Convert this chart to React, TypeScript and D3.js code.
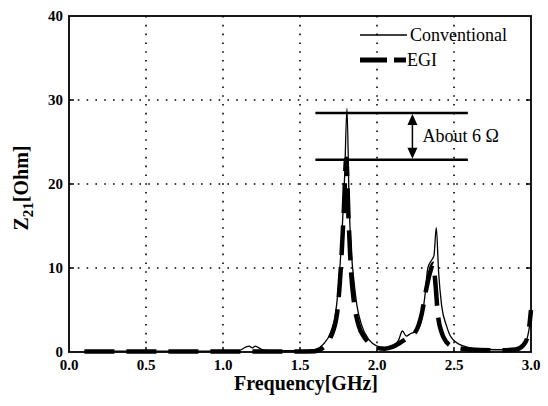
import * as d3 from 'd3';
import React from 'react';

const width = 548;
const height = 406;
const margin = { top: 16, right: 17, bottom: 54, left: 69 };

// frequency [GHz] / Z21 [Ohm]
const convFreq = [0.1, 0.5, 1.0, 1.1, 1.15, 1.17, 1.19, 1.21, 1.25, 1.3, 1.5, 1.6, 1.65, 1.7, 1.73, 1.755, 1.775, 1.79, 1.805, 1.82, 1.835, 1.85, 1.87, 1.9, 1.95, 2.0, 2.05, 2.1, 2.14, 2.165, 2.19, 2.22, 2.25, 2.28, 2.31, 2.33, 2.35, 2.37, 2.385, 2.4, 2.42, 2.45, 2.48, 2.55, 2.7, 2.9, 2.95, 2.98, 3.0];
const convZ = [0.1, 0.1, 0.1, 0.15, 0.6, 0.7, 0.5, 0.7, 0.3, 0.15, 0.15, 0.3, 0.9, 2.4, 4.5, 9.0, 15.0, 21.0, 29.0, 17.0, 11.5, 8.5, 5.5, 3.2, 1.4, 0.7, 0.5, 0.7, 1.4, 2.5, 1.9, 2.2, 2.4, 3.2, 6.5, 10.0, 10.8, 11.5, 14.8, 9.5, 5.5, 3.2, 1.8, 0.8, 0.3, 0.25, 0.6, 2.0, 4.2];

const egiFreq = [0.1, 0.5, 1.0, 1.5, 1.6, 1.65, 1.7, 1.74, 1.765, 1.785, 1.8, 1.815, 1.83, 1.85, 1.88, 1.92, 1.96, 2.0, 2.05, 2.1, 2.15, 2.2, 2.25, 2.29, 2.32, 2.345, 2.365, 2.38, 2.395, 2.42, 2.45, 2.5, 2.6, 2.8, 2.9, 2.95, 2.98, 3.0];
const egiZ = [0.05, 0.05, 0.05, 0.05, 0.1, 0.5, 1.8, 4.5, 10.0, 17.0, 23.0, 16.0, 10.0, 6.0, 3.2, 1.7, 0.9, 0.5, 0.4, 0.6, 1.1, 1.7, 2.4, 4.5, 7.5, 9.5, 10.5, 8.0, 4.5, 2.3, 1.2, 0.6, 0.3, 0.2, 0.3, 0.8, 2.0, 5.0];

const xTicks = [0, 0.5, 1.0, 1.5, 2.0, 2.5, 3.0];
const yTicks = [0, 10, 20, 30, 40];
const gapLines = [28.45, 22.9];

const font = 'Liberation Serif, Times New Roman, DejaVu Serif, serif';

export default function App() {
  const x = d3.scaleLinear().domain([0, 3]).range([margin.left, width - margin.right]);
  const y = d3.scaleLinear().domain([0, 40]).range([height - margin.bottom, margin.top]);

  const line = d3
    .line<[number, number]>()
    .x(d => x(d[0]))
    .y(d => y(d[1]))
    .curve(d3.curveMonotoneX);

  const conv = line(convFreq.map((f, i) => [f, convZ[i]] as [number, number])) || '';
  const egi = line(egiFreq.map((f, i) => [f, egiZ[i]] as [number, number])) || '';

  const x0 = margin.left;
  const x1 = width - margin.right;
  const y0 = height - margin.bottom;
  const y1 = margin.top;

  const ax = x(2.23);
  const ayTop = y(gapLines[0]);
  const ayBot = y(gapLines[1]);

  return (
    <svg width={width} height={height} style={{ position: 'absolute', left: 0, top: 0, background: '#fff', fontFamily: font }}>
      {/* grid */}
      {xTicks.slice(1, -1).map(t => (
        <line key={'gx' + t} x1={x(t)} x2={x(t)} y1={y1} y2={y0} stroke="#000" strokeWidth={1.6} strokeDasharray="1.6,7.2" />
      ))}
      {yTicks.slice(1, -1).map(t => (
        <line key={'gy' + t} x1={x0} x2={x1} y1={y(t)} y2={y(t)} stroke="#000" strokeWidth={1.6} strokeDasharray="1.6,7.2" />
      ))}

      {/* curves */}
      <path d={egi} fill="none" stroke="#000" strokeWidth={4.5} strokeDasharray="30,12" />
      <path d={conv} fill="none" stroke="#000" strokeWidth={1.3} />

      {/* frame */}
      <rect x={x0} y={y1} width={x1 - x0} height={y0 - y1} fill="none" stroke="#000" strokeWidth={1.8} />
      {yTicks.slice(1, -1).map(t => (
        <g key={'ty' + t}>
          <line x1={x0} x2={x0 + 5} y1={y(t)} y2={y(t)} stroke="#000" strokeWidth={1.5} />
          <line x1={x1} x2={x1 - 5} y1={y(t)} y2={y(t)} stroke="#000" strokeWidth={1.5} />
        </g>
      ))}
      {xTicks.slice(1, -1).map(t => (
        <line key={'tx' + t} x1={x(t)} x2={x(t)} y1={y0} y2={y0 - 5} stroke="#000" strokeWidth={1.5} />
      ))}

      {/* tick labels */}
      {xTicks.map(t => (
        <text key={'lx' + t} x={x(t)} y={y0 + 18} textAnchor="middle" fontWeight="bold" fontSize={15}>
          {t.toFixed(1)}
        </text>
      ))}
      {yTicks.map(t => (
        <text key={'ly' + t} x={x0 - 6} y={y(t) + 5} textAnchor="end" fontWeight="bold" fontSize={15}>
          {t}
        </text>
      ))}

      {/* axis titles */}
      <text x={306} y={390} textAnchor="middle" fontWeight="bold" fontSize={20}>
        Frequency[GHz]
      </text>
      <text transform={`translate(28, 188) rotate(-90)`} textAnchor="middle" fontWeight="bold" fontSize={20}>
        Z<tspan fontSize={15} dy={5}>21</tspan>
        <tspan dy={-5}>[Ohm]</tspan>
      </text>

      {/* legend */}
      <line x1={360} x2={407} y1={35} y2={35} stroke="#000" strokeWidth={1.3} />
      <text x={410} y={41} fontSize={18}>Conventional</text>
      <line x1={360} x2={406} y1={60} y2={60} stroke="#000" strokeWidth={5} strokeDasharray="27,7" />
      <text x={407} y={66} fontSize={18}>EGI</text>

      {/* 6 ohm annotation */}
      {gapLines.map(v => (
        <line key={'gl' + v} x1={x(1.6)} x2={x(2.59)} y1={y(v)} y2={y(v)} stroke="#000" strokeWidth={2.5} />
      ))}
      <line x1={ax} x2={ax} y1={ayTop + 8} y2={ayBot - 8} stroke="#000" strokeWidth={1.5} />
      <path d={`M${ax},${ayTop + 1} L${ax - 5},${ayTop + 12} L${ax + 5},${ayTop + 12} Z`} fill="#000" />
      <path d={`M${ax},${ayBot - 1} L${ax - 5},${ayBot - 12} L${ax + 5},${ayBot - 12} Z`} fill="#000" />
      <text x={ax + 10} y={(ayTop + ayBot) / 2 + 6} fontSize={18}>
        About 6 Ω
      </text>
    </svg>
  );
}
